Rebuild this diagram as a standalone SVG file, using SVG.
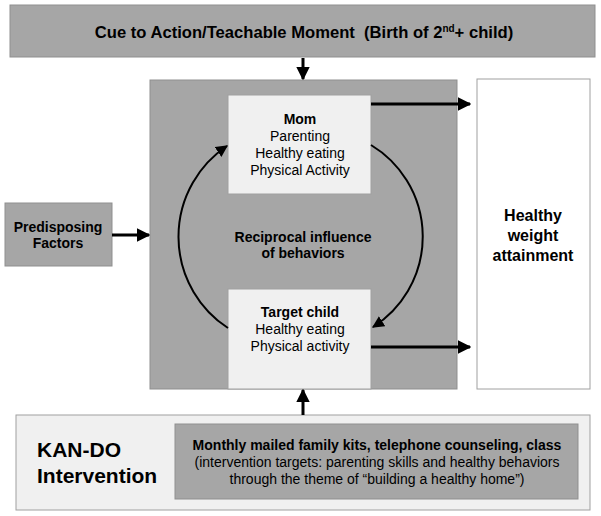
<svg xmlns="http://www.w3.org/2000/svg" width="601" height="516" viewBox="0 0 601 516">
<defs>
<marker id="ah" viewBox="0 0 10 10" refX="9" refY="5" markerWidth="4.5" markerHeight="4.5" orient="auto" markerUnits="strokeWidth">
<path d="M0,0 L10,5 L0,10 z" fill="#000"/>
</marker>
<marker id="ah2" viewBox="0 0 10 10" refX="9" refY="5" markerWidth="6" markerHeight="6" orient="auto" markerUnits="strokeWidth">
<path d="M0,0 L10,5 L0,10 z" fill="#000"/>
</marker>
</defs>
<style>
text{font-family:"Liberation Sans",Arial,sans-serif;fill:#000;text-anchor:middle}
.b{font-weight:bold}
.dark{fill:#a6a6a6;stroke:#8f8f8f;stroke-width:1}
.light{fill:#f0f0f0;stroke:#a0a0a0;stroke-width:1}
.white{fill:#fff;stroke:#a0a0a0;stroke-width:1}
.c{fill:none;stroke:#000;stroke-width:3;marker-end:url(#ah)}
.a{fill:none;stroke:#000;stroke-width:2;marker-end:url(#ah2)}
</style>
<rect width="601" height="516" fill="#fff"/>
<g id="cue">
<rect class="dark" x="10" y="5" width="585" height="52"/>
<text class="b" x="304" y="38" font-size="16.6">Cue to Action/Teachable Moment &#160;(Birth of 2<tspan font-size="10" dy="-6">nd</tspan><tspan dy="6">+ child)</tspan></text>
</g>
<g id="main">
<rect class="dark" x="150" y="80" width="307" height="309"/>
<text class="b" x="303" y="242" font-size="14">Reciprocal influence</text>
<text class="b" x="303" y="258" font-size="14">of behaviors</text>
</g>
<g id="mom">
<rect class="light" x="228" y="95" width="143" height="99"/>
<text class="b" x="300" y="124" font-size="14">Mom</text>
<text x="300" y="141" font-size="14">Parenting</text>
<text x="300" y="158" font-size="14">Healthy eating</text>
<text x="300" y="175" font-size="14">Physical Activity</text>
</g>
<g id="child">
<rect class="light" x="228" y="289" width="143" height="100"/>
<text class="b" x="300" y="317" font-size="14">Target child</text>
<text x="300" y="334" font-size="14">Healthy eating</text>
<text x="300" y="351" font-size="14">Physical activity</text>
</g>
<g id="predisposing">
<rect class="dark" x="5" y="203" width="107" height="63"/>
<text class="b" x="58" y="232" font-size="14">Predisposing</text>
<text class="b" x="58" y="248" font-size="14">Factors</text>
</g>
<g id="healthy">
<rect class="white" x="477" y="79" width="113" height="310"/>
<text class="b" x="533" y="221" font-size="16">Healthy</text>
<text class="b" x="533" y="241" font-size="16">weight</text>
<text class="b" x="533" y="261" font-size="16">attainment</text>
</g>
<g id="kando">
<rect class="light" x="16" y="415" width="574" height="95"/>
<text class="b" x="37" y="457" font-size="21" style="text-anchor:start">KAN-DO</text>
<text class="b" x="37" y="483" font-size="21" style="text-anchor:start">Intervention</text>
<rect class="dark" x="175" y="424" width="403" height="75"/>
<text class="b" x="377" y="450" font-size="14">Monthly mailed family kits, telephone counseling, class</text>
<text x="377" y="467" font-size="14">(intervention targets: parenting skills and healthy behaviors</text>
<text x="377" y="484" font-size="14">through the theme of “building a healthy home”)</text>
</g>
<g id="connectors">
<line class="c" x1="303" y1="58" x2="303" y2="79"/>
<line class="c" x1="303" y1="415" x2="303" y2="390"/>
<line class="c" x1="112" y1="235" x2="149" y2="235"/>
<line class="c" x1="371" y1="104" x2="470" y2="104"/>
<line class="c" x1="371" y1="347" x2="470" y2="347"/>
<path class="a" d="M228,328 A109,109 0 0 1 227,146"/>
<path class="a" d="M371,145 A107,107 0 0 1 373,327"/>
</g>
</svg>
